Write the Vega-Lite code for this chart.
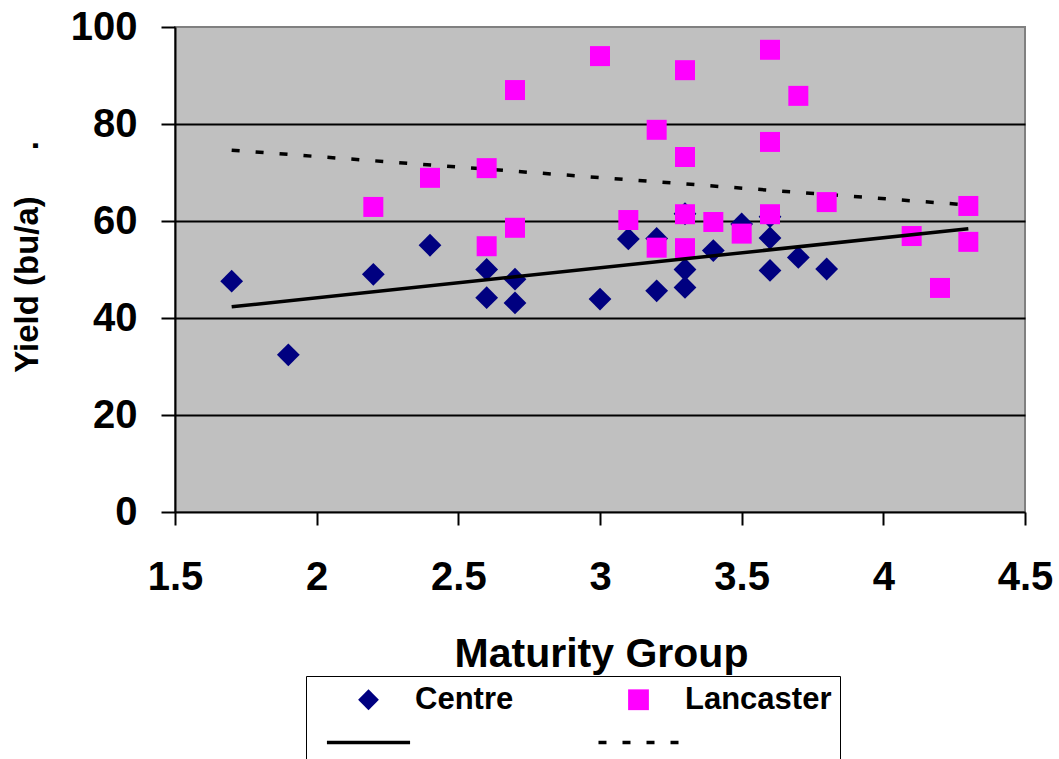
{
  "$schema": "https://vega.github.io/schema/vega-lite/v6.json",
  "width": 850,
  "height": 485,
  "autosize": {"type": "none"},
  "padding": {"left": 175, "top": 27, "right": 34, "bottom": 247},
  "background": "white",
  "config": {
    "view": {"fill": "#C0C0C0", "stroke": "#808080", "strokeWidth": 2},
    "font": "Liberation Sans",
    "legend": {
      "title": null,
      "orient": "none", "legendX": 131, "legendY": 649,
      "columns": 2, "direction": "horizontal",
      "columnPadding": 70, "rowPadding": 11,
      "padding": 8,
      "fillColor": "white", "strokeColor": "black",
      "symbolSize": 432, "symbolOffset": 39, "labelOffset": 31,
      "symbolStrokeWidth": 0,
      "labelFont": "Liberation Sans", "labelFontWeight": "bold", "labelFontSize": 31, "labelColor": "black",
      "labelLimit": 400
    }
  },
  "datasets": {
    "points": [
      {"maturity": 1.7, "yield": 47.6, "series": "Centre"},
      {"maturity": 1.9, "yield": 32.4, "series": "Centre"},
      {"maturity": 2.2, "yield": 49.0, "series": "Centre"},
      {"maturity": 2.4, "yield": 55.0, "series": "Centre"},
      {"maturity": 2.6, "yield": 50.0, "series": "Centre"},
      {"maturity": 2.6, "yield": 44.2, "series": "Centre"},
      {"maturity": 2.7, "yield": 48.0, "series": "Centre"},
      {"maturity": 2.7, "yield": 43.1, "series": "Centre"},
      {"maturity": 3.0, "yield": 43.9, "series": "Centre"},
      {"maturity": 3.1, "yield": 56.3, "series": "Centre"},
      {"maturity": 3.2, "yield": 56.4, "series": "Centre"},
      {"maturity": 3.2, "yield": 45.6, "series": "Centre"},
      {"maturity": 3.3, "yield": 61.5, "series": "Centre"},
      {"maturity": 3.3, "yield": 50.0, "series": "Centre"},
      {"maturity": 3.3, "yield": 46.3, "series": "Centre"},
      {"maturity": 3.4, "yield": 53.9, "series": "Centre"},
      {"maturity": 3.5, "yield": 59.4, "series": "Centre"},
      {"maturity": 3.6, "yield": 60.9, "series": "Centre"},
      {"maturity": 3.6, "yield": 56.5, "series": "Centre"},
      {"maturity": 3.6, "yield": 49.8, "series": "Centre"},
      {"maturity": 3.7, "yield": 52.5, "series": "Centre"},
      {"maturity": 3.8, "yield": 50.1, "series": "Centre"},
      {"maturity": 2.2, "yield": 62.9, "series": "Lancaster"},
      {"maturity": 2.4, "yield": 68.9, "series": "Lancaster"},
      {"maturity": 2.6, "yield": 70.9, "series": "Lancaster"},
      {"maturity": 2.6, "yield": 54.8, "series": "Lancaster"},
      {"maturity": 2.7, "yield": 87.0, "series": "Lancaster"},
      {"maturity": 2.7, "yield": 58.6, "series": "Lancaster"},
      {"maturity": 3.0, "yield": 94.0, "series": "Lancaster"},
      {"maturity": 3.1, "yield": 60.2, "series": "Lancaster"},
      {"maturity": 3.2, "yield": 78.8, "series": "Lancaster"},
      {"maturity": 3.2, "yield": 54.5, "series": "Lancaster"},
      {"maturity": 3.3, "yield": 91.1, "series": "Lancaster"},
      {"maturity": 3.3, "yield": 73.2, "series": "Lancaster"},
      {"maturity": 3.3, "yield": 61.4, "series": "Lancaster"},
      {"maturity": 3.3, "yield": 54.4, "series": "Lancaster"},
      {"maturity": 3.4, "yield": 59.8, "series": "Lancaster"},
      {"maturity": 3.5, "yield": 57.4, "series": "Lancaster"},
      {"maturity": 3.6, "yield": 95.3, "series": "Lancaster"},
      {"maturity": 3.6, "yield": 76.3, "series": "Lancaster"},
      {"maturity": 3.6, "yield": 61.4, "series": "Lancaster"},
      {"maturity": 3.7, "yield": 85.8, "series": "Lancaster"},
      {"maturity": 3.8, "yield": 63.9, "series": "Lancaster"},
      {"maturity": 4.1, "yield": 56.9, "series": "Lancaster"},
      {"maturity": 4.2, "yield": 46.2, "series": "Lancaster"},
      {"maturity": 4.3, "yield": 63.1, "series": "Lancaster"},
      {"maturity": 4.3, "yield": 55.7, "series": "Lancaster"}
    ],
    "trends": [
      {"maturity": 1.7, "yield": 42.3, "series": "Centre trend"},
      {"maturity": 4.3, "yield": 58.4, "series": "Centre trend"},
      {"maturity": 1.7, "yield": 74.6, "series": "Lancaster trend"},
      {"maturity": 4.3, "yield": 63.3, "series": "Lancaster trend"}
    ]
  },
  "encoding": {
    "x": {
      "field": "maturity", "type": "quantitative",
      "scale": {"domain": [1.5, 4.5], "nice": false, "zero": false},
      "axis": {
        "title": "Maturity Group",
        "values": [1.5, 2, 2.5, 3, 3.5, 4, 4.5],
        "format": "~g",
        "grid": false,
        "domainColor": "black", "domainWidth": 2,
        "tickColor": "black", "tickWidth": 2, "tickSize": 13,
        "labelFont": "Liberation Sans", "labelFontWeight": "bold", "labelFontSize": 40, "labelColor": "black",
        "labelBaseline": "alphabetic", "labelPadding": 64, "labelFlush": false, "labelOverlap": false,
        "titleFont": "Liberation Sans", "titleFontWeight": "bold", "titleFontSize": 41, "titleColor": "black",
        "titleBaseline": "alphabetic", "titleX": 426, "titleY": 154, "titleAnchor": "middle"
      }
    },
    "y": {
      "field": "yield", "type": "quantitative",
      "scale": {"domain": [0, 100], "nice": false},
      "axis": {
        "title": "Yield (bu/a)\u00a0\u00a0\u00a0\u00a0\u00a0.",
        "values": [0, 20, 40, 60, 80, 100],
        "grid": true,
        "gridColor": {"condition": {"test": "datum.value == 0 || datum.value == 100", "value": "transparent"}, "value": "black"},
        "gridWidth": 2,
        "domainColor": "black", "domainWidth": 2,
        "tickColor": "black", "tickWidth": 2, "tickSize": 14,
        "labelFont": "Liberation Sans", "labelFontWeight": "bold", "labelFontSize": 40, "labelColor": "black",
        "labelPadding": 24, "labelFlush": false, "labelOverlap": false,
        "titleFont": "Liberation Sans", "titleFontWeight": "bold", "titleFontSize": 33, "titleColor": "black",
        "titleBaseline": "alphabetic", "titleAngle": -90, "titleX": -138, "titleY": 229.5, "titleAlign": "center"
      }
    }
  },
  "layer": [
    {
      "data": {"name": "trends"},
      "transform": [{"filter": "datum.series == 'Lancaster trend'"}],
      "mark": {"type": "line", "color": "black", "strokeWidth": 3.5, "strokeDash": [8, 16]},
      "encoding": {}
    },
    {
      "data": {"name": "points"},
      "mark": {"type": "point", "filled": true, "opacity": 1},
      "encoding": {
        "size": {"field": "series", "type": "nominal", "scale": {"domain": ["Centre", "Lancaster"], "range": [520, 400]}, "legend": null},
        "color": {"field": "series", "type": "nominal",
          "scale": {"domain": ["Centre", "Lancaster", "Centre trend", "Lancaster trend"], "range": ["#000080", "#FF00FF", "#000000", "#000000"]},
          "legend": {
            "labelExpr": "indexof(datum.value, 'trend') >= 0 ? '' : datum.label",
            "encode": {
              "legend": {"update": {"strokeWidth": {"value": 1.5}}},
              "symbols": {"update": {
                "fill": {"signal": "datum.value == 'Centre' ? '#000080' : datum.value == 'Lancaster' ? '#FF00FF' : '#000000'"},
                "strokeWidth": {"value": 0},
                "size": {"signal": "datum.value == 'Centre' ? 480 : 432"},
                "opacity": {"value": 1}
              }}
            }
          }
        },
        "shape": {"field": "series", "type": "nominal",
          "scale": {"domain": ["Centre", "Lancaster", "Centre trend", "Lancaster trend"], "range": ["diamond", "square", "M-4,-0.17L4,-0.17L4,0.17L-4,0.17Z", "M-3.85,-0.17L-3.08,-0.17L-3.08,0.17L-3.85,0.17ZM-1.54,-0.17L-0.77,-0.17L-0.77,0.17L-1.54,0.17ZM0.77,-0.17L1.54,-0.17L1.54,0.17L0.77,0.17ZM3.08,-0.17L3.85,-0.17L3.85,0.17L3.08,0.17Z"]},
          "legend": {
            "labelExpr": "indexof(datum.value, 'trend') >= 0 ? '' : datum.label",
            "encode": {
              "legend": {"update": {"strokeWidth": {"value": 1.5}}},
              "symbols": {"update": {
                "fill": {"signal": "datum.value == 'Centre' ? '#000080' : datum.value == 'Lancaster' ? '#FF00FF' : '#000000'"},
                "strokeWidth": {"value": 0},
                "size": {"signal": "datum.value == 'Centre' ? 480 : 432"},
                "opacity": {"value": 1}
              }}
            }
          }
        }
      }
    },
    {
      "data": {"name": "trends"},
      "transform": [{"filter": "datum.series == 'Centre trend'"}],
      "mark": {"type": "line", "color": "black", "strokeWidth": 3.5},
      "encoding": {}
    }
  ]
}
